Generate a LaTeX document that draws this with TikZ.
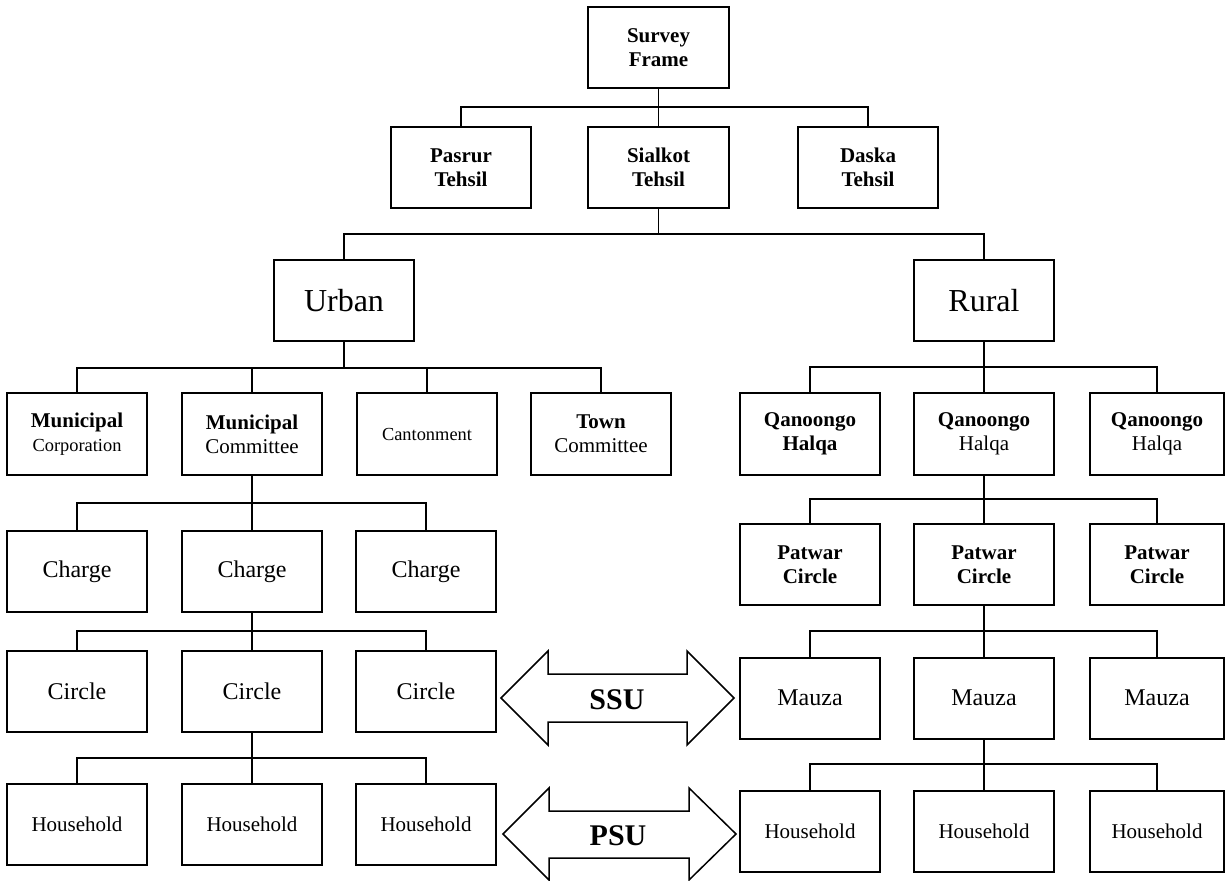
\documentclass[tikz,border=0pt]{standalone}
\usepackage{fontspec}
\setmainfont{Liberation Serif}
\usepackage{tikz}

\begin{document}
\begin{tikzpicture}[x=0.5pt, y=-0.5pt,
    box/.style={draw, line width=1pt, minimum width=70pt, minimum height=40.5pt,
        inner sep=1pt, align=center, font=\fontsize{10.5}{12}\selectfont},
    bigtext/.style={font=\fontsize{16}{18}\selectfont},
    midtext/.style={font=\fontsize{12}{14}\selectfont},
    smalltext/.style={font=\fontsize{9.2}{11}\selectfont},
    link/.style={line width=0.8pt},
    stem/.style={line width=1.4pt},
    arrowline/.style={line width=0.75pt, line join=miter},
    arrowtext/.style={font=\bfseries\fontsize{15}{18}\selectfont}]
    \useasboundingbox (0,0) rectangle (1225,881);

    % Survey frame and tehsils
    \node[box, minimum width=70.5pt] (frame) at (658.5,47.5) {\textbf{Survey}\\\textbf{Frame}};
    \node[box] (pasrur) at (461,167.5) {\textbf{Pasrur}\\\textbf{Tehsil}};
    \node[box, minimum width=70.5pt] (sialkot) at (658.5,167.5) {\textbf{Sialkot}\\\textbf{Tehsil}};
    \node[box] (daska) at (868,167.5) {\textbf{Daska}\\\textbf{Tehsil}};

    % Urban and rural
    \node[box, bigtext] (urban) at (344,301) {Urban};
    \node[box, bigtext] (rural) at (984,301) {Rural};

    % Urban units
    \node[box, minimum height=41pt] (mcorp) at (77,434) {\textbf{Municipal}\\{\fontsize{9.2}{11}\selectfont Corporation}};
    \node[box, minimum height=41pt] (mcomm) at (252,434) {\textbf{Municipal}\\Committee};
    \node[box, minimum height=41pt, smalltext] (cantt) at (427,434) {Cantonment};
    \node[box, minimum height=41pt] (town) at (601,434) {\textbf{Town}\\Committee};

    % Qanoongo halqas
    \node[box, minimum height=41pt] (qh1) at (810,434) {\textbf{Qanoongo}\\\textbf{Halqa}};
    \node[box, minimum height=41pt] (qh2) at (984,434) {\textbf{Qanoongo}\\Halqa};
    \node[box, minimum height=41pt, minimum width=67pt] (qh3) at (1157,434) {\textbf{Qanoongo}\\Halqa};

    % Charges
    \node[box, midtext] (ch1) at (77,571.5) {Charge};
    \node[box, midtext] (ch2) at (252,571.5) {Charge};
    \node[box, midtext] (ch3) at (426,571.5) {Charge};

    % Patwar circles
    \node[box] (pc1) at (810,564.5) {\textbf{Patwar}\\\textbf{Circle}};
    \node[box] (pc2) at (984,564.5) {\textbf{Patwar}\\\textbf{Circle}};
    \node[box, minimum width=67pt] (pc3) at (1157,564.5) {\textbf{Patwar}\\\textbf{Circle}};

    % Circles
    \node[box, midtext] (ci1) at (77,691.5) {Circle};
    \node[box, midtext] (ci2) at (252,691.5) {Circle};
    \node[box, midtext] (ci3) at (426,691.5) {Circle};

    % Mauzas
    \node[box, midtext] (mz1) at (810,698) {Mauza};
    \node[box, midtext] (mz2) at (984,698) {Mauza};
    \node[box, midtext, minimum width=67pt] (mz3) at (1157,698) {Mauza};

    % Households
    \node[box] (hu1) at (77,824.5) {Household};
    \node[box] (hu2) at (252,824.5) {Household};
    \node[box] (hu3) at (426,824.5) {Household};
    \node[box] (hr1) at (810,831.5) {Household};
    \node[box] (hr2) at (984,831.5) {Household};
    \node[box, minimum width=67pt] (hr3) at (1157,831.5) {Household};

    % Junctions of the connectors
    \coordinate (j1) at (658.5,107);
    \coordinate (j2) at (658.5,234);
    \coordinate (j3) at (344,368);
    \coordinate (j4) at (984,367);
    \coordinate (j5) at (252,503);
    \coordinate (j6) at (984,499);
    \coordinate (j7) at (252,631);
    \coordinate (j8) at (984,631);
    \coordinate (j9) at (252,758);
    \coordinate (j10) at (984,764);

    % Frame to tehsils
    \draw[link] (frame) -- (j1);
    \draw[link] (j1) -| (pasrur);
    \draw[link] (j1) -- (sialkot);
    \draw[link] (j1) -| (daska);

    % Sialkot to urban and rural
    \draw[link] (sialkot) -- (j2);
    \draw[link] (j2) -| (urban);
    \draw[link] (j2) -| (rural);

    % Urban to its units
    \draw[stem] (urban) -- (j3);
    \draw[link] (j3) -| (mcorp);
    \draw[link] (j3) -| (mcomm);
    \draw[link] (j3) -| (cantt);
    \draw[link] (j3) -| (town);

    % Rural to qanoongo halqas
    \draw[stem] (rural) -- (j4);
    \draw[link] (j4) -| (qh1);
    \draw[link] (j4) -- (qh2);
    \draw[link] (j4) -| (qh3);

    % Committee to charges
    \draw[stem] (mcomm) -- (j5);
    \draw[link] (j5) -| (ch1);
    \draw[link] (j5) -- (ch2);
    \draw[link] (j5) -| (ch3);

    % Halqa to patwar circles
    \draw[stem] (qh2) -- (j6);
    \draw[link] (j6) -| (pc1);
    \draw[link] (j6) -- (pc2);
    \draw[link] (j6) -| (pc3);

    % Charge to circles
    \draw[stem] (ch2) -- (j7);
    \draw[link] (j7) -| (ci1);
    \draw[link] (j7) -- (ci2);
    \draw[link] (j7) -| (ci3);

    % Patwar circle to mauzas
    \draw[stem] (pc2) -- (j8);
    \draw[link] (j8) -| (mz1);
    \draw[link] (j8) -- (mz2);
    \draw[link] (j8) -| (mz3);

    % Circle to households
    \draw[stem] (ci2) -- (j9);
    \draw[link] (j9) -| (hu1);
    \draw[link] (j9) -- (hu2);
    \draw[link] (j9) -| (hu3);

    % Mauza to households
    \draw[stem] (mz2) -- (j10);
    \draw[link] (j10) -| (hr1);
    \draw[link] (j10) -- (hr2);
    \draw[link] (j10) -| (hr3);

    % SSU arrow
    \draw[arrowline] (501,698) -- (548,651) -- (548,674) -- (687,674) -- (687,651) -- (734,698)
        -- (687,745) -- (687,722) -- (548,722) -- (548,745) -- cycle;
    \node[arrowtext] (ssu) at (617,700) {SSU};

    % PSU arrow
    \draw[arrowline] (503,834) -- (549,788) -- (549,811) -- (689,811) -- (689,788) -- (736,834)
        -- (689,880) -- (689,858) -- (549,858) -- (549,880) -- cycle;
    \node[arrowtext] (psu) at (618,836) {PSU};
\end{tikzpicture}
\end{document}
